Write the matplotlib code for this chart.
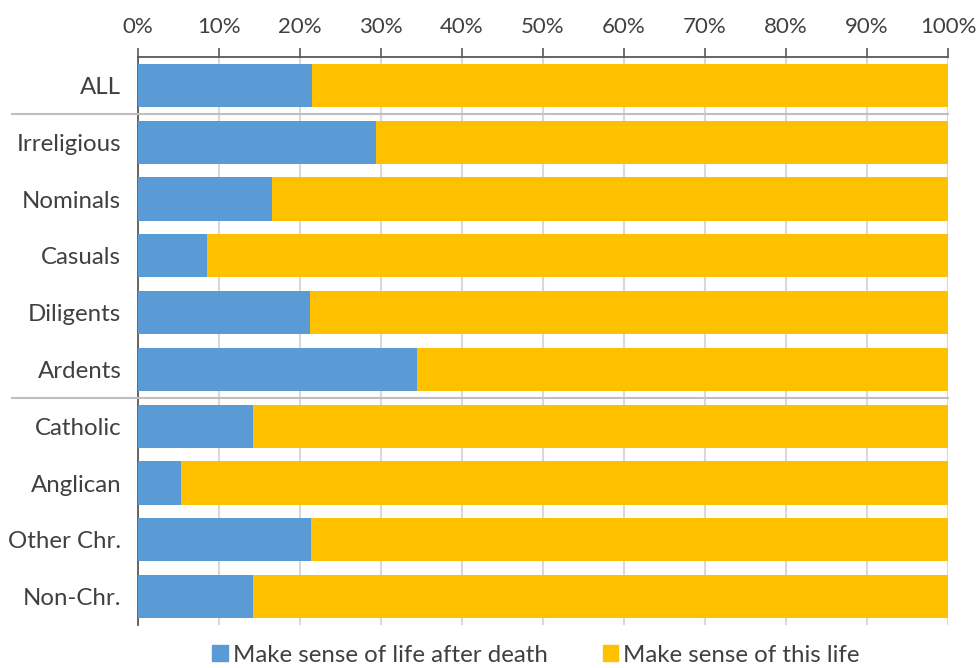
import numpy as np
import matplotlib
matplotlib.use('Agg')
import matplotlib.pyplot as plt
from matplotlib.patches import Patch
from matplotlib.lines import Line2D

plt.rcParams['font.family'] = ['Lato', 'DejaVu Sans']

# data (percent)
cats = ['ALL', 'Irreligious', 'Nominals', 'Casuals', 'Diligents', 'Ardents',
        'Catholic', 'Anglican', 'Other Chr.', 'Non-Chr.']
after_death = [21.5, 29.4, 16.6, 8.5, 21.2, 34.4, 14.2, 5.3, 21.3, 14.2]
this_life = [100 - v for v in after_death]
series_names = ['Make sense of life after death', 'Make sense of this life']
blue = '#5B9BD5'
yellow = '#FFC000'
txt = '#404040'

fig = plt.figure(figsize=(9.79, 6.68), dpi=100)
ax = fig.add_axes([138/979, 1 - 625/668, 810/979, 568/668])

y = np.arange(len(cats))
ax.barh(y, after_death, height=0.76, color=blue, zorder=3)
ax.barh(y, this_life, left=after_death, height=0.76, color=yellow, zorder=3)

ax.set_xlim(0, 100)
ax.set_ylim(len(cats) - 0.5, -0.5)
ax.set_xticks(np.arange(0, 101, 10))
ax.set_xticklabels(['%d%%' % v for v in range(0, 101, 10)])
ax.xaxis.tick_top()
ax.tick_params(axis='x', direction='out', length=6.5, width=1.2, color='#595959',
               labelsize=16, labelcolor=txt, pad=8)
ax.set_yticks(y)
ax.set_yticklabels(cats)
ax.tick_params(axis='y', length=0, labelsize=17.3, labelcolor=txt, pad=12)
ax.grid(axis='x', color='#d9d9d9', lw=1.5, zorder=0)

for s in ['right', 'bottom']:
    ax.spines[s].set_visible(False)
for s in ['top', 'left']:
    ax.spines[s].set_color('#595959')
    ax.spines[s].set_linewidth(1.3)

# group separators reaching into the label area
for yy in [0.5, 5.5]:
    ax.add_line(Line2D([-0.156, 1.0], [yy, yy], transform=ax.get_yaxis_transform(),
                       color='#bfbfbf', lw=1.5, clip_on=False, zorder=4))

handles = [Patch(color=blue), Patch(color=yellow)]
fig.legend(handles, series_names, loc='center', bbox_to_anchor=(536/979, 1 - 655/668),
           ncol=2, frameon=False, fontsize=17.3, labelcolor=txt,
           handlelength=0.65, handleheight=0.65, handletextpad=0.2, columnspacing=2.3)

fig.savefig('out.png', dpi=100)
